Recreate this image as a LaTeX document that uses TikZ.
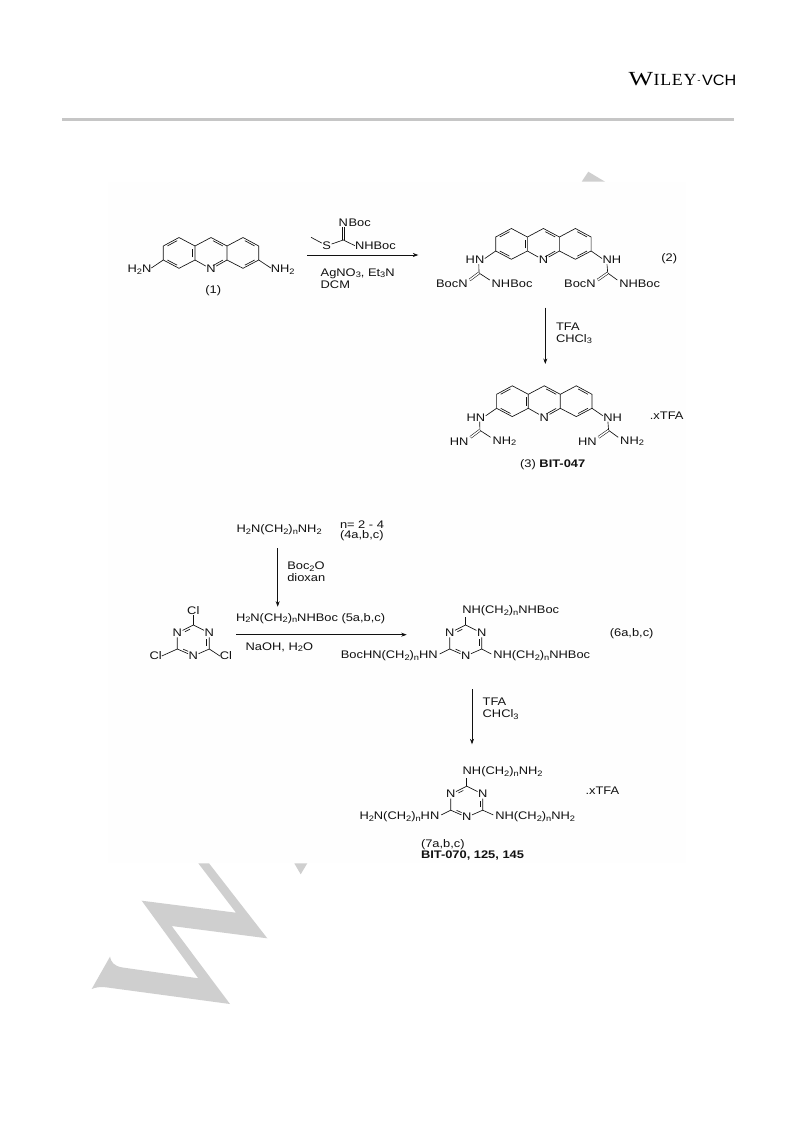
\documentclass[tikz,border=0pt]{standalone}
\usepackage{fontspec}
\setmainfont[FakeStretch=1.17]{Liberation Sans}
\newfontfamily\wserW[FakeStretch=1.3]{Liberation Serif}
\newfontfamily\wserI[FakeStretch=1.05,LetterSpace=4]{Liberation Serif}
\newfontfamily\wsan[FakeStretch=1.08]{Liberation Sans}
\usetikzlibrary{calc,arrows.meta}
\definecolor{wm}{HTML}{CFCFCF}
\definecolor{rule}{HTML}{C6C6C6}
\definecolor{ink}{HTML}{111111}
\definecolor{paper}{HTML}{FEFEFE}
\newcommand\lowi[1]{\raisebox{-.28ex}{\scalebox{.72}{#1}}}
\newcommand\stoB{\lowi{2}}
\newcommand\chain{(CH\lowi{2})\lowi{n}}
\tikzset{
  txt/.style={inner sep=0pt,outer sep=0pt,font=\fontsize{11}{12}\selectfont,text=ink},
  atom/.style={txt,inner sep=.6pt,fill=none},
  bond/.style={draw=ink,line width=.65pt},
  dbl/.style={draw=ink,line width=.55pt,double=paper,double distance=1.5pt},
  rxn/.style={draw=ink,line width=.65pt,-{Stealth[length=5.5pt,width=4pt]}},
}
\newcommand\inb[3]{\draw[bond] ($($(#1)!.14!(#2)$)!.14!(#3)$) -- ($($(#2)!.14!(#1)$)!.14!(#3)$);}
% acridine core: #1 prefix, #2/#3 position of ring N
\newcommand\acridine[3]{
\begin{scope}[shift={(#2,#3)}]
 \coordinate (#1a) at (-32,-31.5); \coordinate (#1b) at (-47.7,-23); \coordinate (#1c) at (-47.7,-9);
 \coordinate (#1d) at (-32,-.7); \coordinate (#1p) at (-16,-9); \coordinate (#1q) at (-16,-23);
 \coordinate (#1m) at (0,-31.5); \coordinate (#1r) at (16,-23); \coordinate (#1s) at (16,-9);
 \coordinate (#1e) at (32,-31.5); \coordinate (#1f) at (47.7,-23); \coordinate (#1g) at (47.7,-9);
 \coordinate (#1h) at (32,-.7);
 \coordinate (#1L) at (-32,-16); \coordinate (#1M) at (0,-16); \coordinate (#1R) at (32,-16);
 \node[atom] (#1N) at (0,0) {N};
 \draw[bond] (#1a)--(#1b)--(#1c)--(#1d)--(#1p)--(#1q)--cycle;
 \draw[bond] (#1q)--(#1m)--(#1r)--(#1s)--(#1h)--(#1g)--(#1f)--(#1e)--(#1r);
 \draw[bond] (#1p)--(#1N)--(#1s);
 \inb{#1a}{#1b}{#1L}\inb{#1c}{#1d}{#1L}\inb{#1p}{#1q}{#1L}
 \inb{#1m}{#1r}{#1M}\inb{#1s}{#1N.center}{#1M}
 \inb{#1e}{#1f}{#1R}\inb{#1g}{#1h}{#1R}
\end{scope}}
% guanidine arms: #1 prefix, #2/#3 ring N, #4 left text, #5 right text
\newcommand\arms[5]{
\begin{scope}[shift={(#2,#3)}]
 \node[txt] (#1HN) at (-68.4,0) {HN};
 \coordinate (#1cl) at (-64.4,13);
 \node[txt,anchor=east] (#1ll) at (-75.8,24) {#4};
 \node[txt,anchor=west] (#1lr) at (-51.7,24) {#5};
 \node[txt] (#1NH) at (68.4,0) {NH};
 \coordinate (#1cr) at (64.3,13);
 \node[txt,anchor=east] (#1rl) at (52.3,24) {#4};
 \node[txt,anchor=west] (#1rr) at (75.9,24) {#5};
 \draw[bond] (#1c) -- ($(#1HN.east)+(.5,-1.5)$);
 \draw[bond] (#1g) -- ($(#1NH.west)+(-.5,-1.5)$);
 \draw[bond] ($(#1HN.south)+(3.8,.5)$) -- (#1cl);
 \draw[bond] ($(#1NH.south)+(-4.8,.5)$) -- (#1cr);
 \draw[bond] (#1cl) -- ($(#1lr.west)+(-2,-4)$);
 \draw[bond] (#1cr) -- ($(#1rr.west)+(-2,-4)$);
 \draw[dbl] (#1cl) -- ($(#1ll.east)+(2,-4)$);
 \draw[dbl] (#1cr) -- ($(#1rl.east)+(2,-4)$);
\end{scope}}
% triazine: #1 prefix, #2/#3 top carbon
\newcommand\triazine[3]{
\begin{scope}[shift={(#2,#3)}]
 \coordinate (#1t) at (0,0); \node[atom] (#1ul) at (-16,8) {N}; \coordinate (#1ll) at (-16,24);
 \node[atom] (#1bo) at (0,31) {N}; \coordinate (#1lr) at (16,24); \node[atom] (#1ur) at (16,8) {N};
 \coordinate (#1o) at (0,16);
 \draw[bond] (#1t)--(#1ul)--(#1ll)--(#1bo)--(#1lr)--(#1ur)--(#1t);
 \draw[bond] ($($(#1t)!.25!(#1ul.center)$)!.16!(#1o)$) -- ($($(#1ul.center)!.38!(#1t)$)!.16!(#1o)$);
 \draw[bond] ($($(#1ll)!.25!(#1bo.center)$)!.16!(#1o)$) -- ($($(#1bo.center)!.38!(#1ll)$)!.16!(#1o)$);
 \draw[bond] ($($(#1lr)!.14!(#1ur.center)$)!.16!(#1o)$) -- ($($(#1ur.center)!.38!(#1lr)$)!.16!(#1o)$);
\end{scope}}
\begin{document}
\begin{tikzpicture}[x=1pt,y=-1pt]
\useasboundingbox (0,0) rectangle (793,1121);
\fill[white] (0,0) rectangle (793,1121);
% watermark
\fill[wm] (198.3,863.3) -- (209,863.3) -- (267.3,938.3) -- (171.7,926) -- (230,1004) -- (106,987.3) .. controls (100,986.5) and (95,987.5) .. (91.7,989)
  -- (110,956.7) .. controls (111,962) and (114,966) .. (122,967.4) -- (198.3,978.3) -- (141.7,900.7) -- (236,912.7) -- cycle;
\fill[wm] (294.3,863.3) -- (307.3,863.3) -- (300.7,874.3) -- cycle;
\fill[wm] (588.3,171.7) -- (581.7,181.7) -- (605,181.7) -- cycle;
% figure backing
\fill[paper] (108,181.7) rectangle (685.7,863.3);
% header
\draw[rule,line width=3pt] (62,119.7) coordinate (ruleL) -- (734.3,119.7) coordinate (ruleR);
\node[inner sep=0pt,anchor=base west,text=black] (wileyW) at (628.3,85.5) {\wserW\fontsize{20}{20}\selectfont W};
\node[inner sep=0pt,anchor=base west,text=black] (wileyI) at (653.5,85.5) {\wserI\fontsize{17}{17}\selectfont ILEY};
\node[inner sep=0pt,anchor=base,text=black] (wileyD) at (699,85.5) {\wsan\fontsize{9}{9}\selectfont\raisebox{.5ex}{-}};
\node[inner sep=0pt,anchor=base east,text=black] (wileyV) at (736.5,85.5) {\wsan\fontsize{15}{15}\selectfont VCH};
% compound 1
\acridine{A}{211}{269}
\node[txt] (a1l) at (139.5,269.5) {H\stoB N};
\node[txt] (a1r) at (282.7,269.5) {NH\stoB};
\draw[bond] (Ac) -- ($(a1l.east)+(0,-1.5)$);
\draw[bond] (Ag) -- ($(a1r.west)+(0,-1.5)$);
\node[txt] (c1) at (213.3,291) {(1)};
% reagent
\node[atom] (rN) at (343.3,222.7) {N};
\node[txt,anchor=west] (rBoc) at (rN.east) {Boc};
\coordinate (rC) at (343.3,240);
\node[atom] (rS) at (326.7,245.7) {S};
\coordinate (rMe) at (311,237.3);
\node[txt,anchor=west] (rNH) at (355,245.7) {NHBoc};
\draw[dbl] (rN) -- (rC);
\draw[bond] (rMe) -- (rS) -- (rC) -- (rNH.west);
\coordinate (arr1a) at (307.3,255); \coordinate (arr1b) at (418.3,255);
\draw[rxn] (arr1a) -- (arr1b);
\node[txt,anchor=west] (r1a) at (320.7,273.3) {AgNO\lowi{3}, Et\lowi{3}N};
\node[txt,anchor=west] (r1b) at (320.7,284.3) {DCM};
% compound 2
\acridine{B}{543.4}{260}
\arms{B}{543.4}{260}{BocN}{NHBoc}
\node[txt] (c2) at (669.3,259) {(2)};
\coordinate (arr2a) at (545.3,307.7); \coordinate (arr2b) at (545.3,364);
\draw[rxn] (arr2a) -- (arr2b);
\node[txt,anchor=west] (r2a) at (556,326.7) {TFA};
\node[txt,anchor=west] (r2b) at (556,339) {CHCl\lowi{3}};
% compound 3
\acridine{D}{544.3}{417.3}
\arms{D}{544.3}{417.3}{HN}{NH\stoB}
\node[txt] (c3x) at (666.7,415.7) {.xTFA};
\node[txt] (c3) at (552.7,465) {(3) \textbf{BIT-047}};
% diamine
\node[txt,anchor=west] (da) at (236.7,530) {H\stoB N\chain NH\stoB};
\node[txt,anchor=west] (na) at (340,524.3) {n= 2 - 4};
\node[txt,anchor=west] (nb) at (340,536) {(4a,b,c)};
\coordinate (arr3a) at (277.7,548.3); \coordinate (arr3b) at (277.7,606.7);
\draw[rxn] (arr3a) -- (arr3b);
\node[txt,anchor=west] (r3a) at (287.3,566.7) {Boc\lowi{2}O};
\node[txt,anchor=west] (r3b) at (287.3,577.7) {dioxan};
% cyanuric chloride
\triazine{T}{193.3}{625}
\node[txt] (Cl1) at (193.3,610.7) {Cl};
\node[txt] (Cl2) at (155.7,656) {Cl};
\node[txt] (Cl3) at (226,656) {Cl};
\draw[bond] (Tt) -- (Cl1);
\draw[bond] (Tll) -- (Cl2.east);
\draw[bond] (Tlr) -- (Cl3.west);
\node[txt,anchor=west] (r4a) at (236,618.3) {H\stoB N\chain NHBoc (5a,b,c)};
\coordinate (arr4a) at (236,634.7); \coordinate (arr4b) at (406.7,634.7);
\draw[rxn] (arr4a) -- (arr4b);
\node[txt,anchor=west] (r4b) at (245.7,647.3) {NaOH, H\lowi{2}O};
% compound 6
\triazine{U}{465.7}{625}
\node[txt,anchor=west] (u1) at (462.3,610.7) {NH\chain NHBoc};
\node[txt,anchor=east] (u2) at (437.7,656) {BocHN\chain HN};
\node[txt,anchor=west] (u3) at (493.3,656) {NH\chain NHBoc};
\draw[bond] (Ut) -- (465.7,616.7) coordinate (ua);
\draw[bond] (Ull) -- ($(u2.east)+(2,-2)$);
\draw[bond] (Ulr) -- ($(u3.west)+(-2,-2)$);
\node[txt] (c6) at (631.7,633.3) {(6a,b,c)};
\coordinate (arr5a) at (472,689); \coordinate (arr5b) at (472,744.3);
\draw[rxn] (arr5a) -- (arr5b);
\node[txt,anchor=west] (r5a) at (482.7,701.7) {TFA};
\node[txt,anchor=west] (r5b) at (482.7,714.3) {CHCl\lowi{3}};
% compound 7
\triazine{V}{466.7}{786.2}
\node[txt,anchor=west] (v1) at (462.7,771.7) {NH\chain NH\stoB};
\node[txt,anchor=east] (v2) at (439.3,816.9) {H\stoB N\chain HN};
\node[txt,anchor=west] (v3) at (495.3,816.9) {NH\chain NH\stoB};
\draw[bond] (Vt) -- (466.7,777.7) coordinate (va);
\draw[bond] (Vll) -- ($(v2.east)+(2,-2)$);
\draw[bond] (Vlr) -- ($(v3.west)+(-2,-2)$);
\node[txt] (c7x) at (602.3,791) {.xTFA};
\node[txt,anchor=west] (c7a) at (421,845) {(7a,b,c)};
\node[txt,anchor=west] (c7b) at (421,855.7) {\textbf{BIT-070, 125, 145}};
\end{tikzpicture}
\end{document}
